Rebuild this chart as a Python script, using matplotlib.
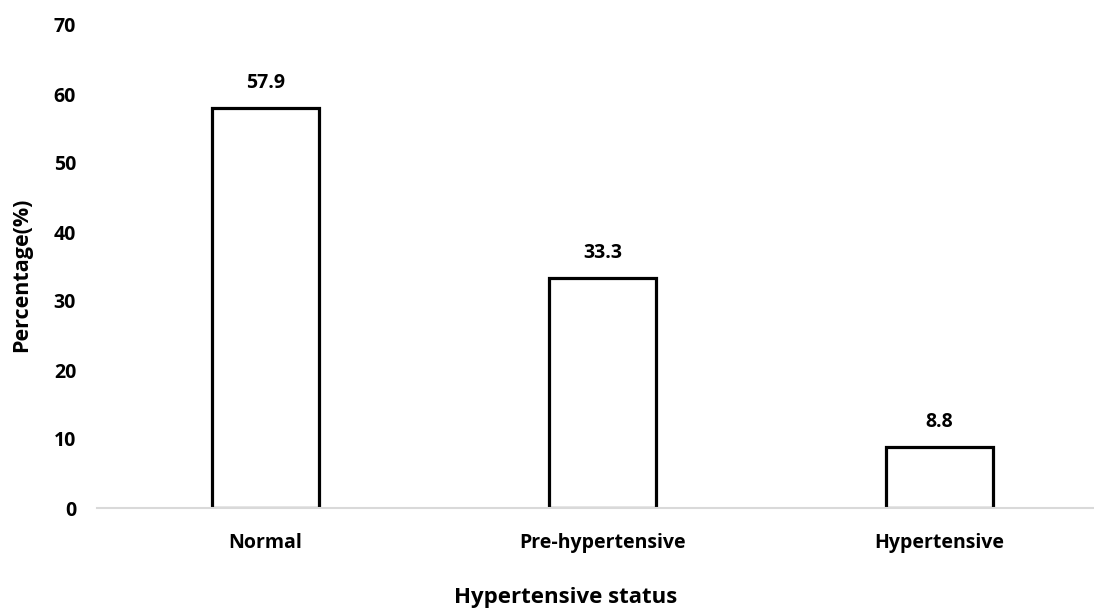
import matplotlib.pyplot as plt

categories = ["Normal", "Pre-hypertensive", "Hypertensive"]
values = [57.9, 33.3, 8.8]
yticks = [0, 10, 20, 30, 40, 50, 60, 70]

plt.rcParams["font.family"] = ["Open Sans", "DejaVu Sans"]
plt.rcParams["font.weight"] = "bold"

fig = plt.figure(figsize=(10.94, 6.11), dpi=100)
ax = fig.add_axes([97 / 1094, 103 / 611, 1011 / 1094, 483 / 611])

x = range(len(categories))
ax.bar(x, values, width=0.32, color="white", edgecolor="black", linewidth=2.3, zorder=3)
for xi, v in zip(x, values):
    ax.annotate(f"{v}", (xi, v), xytext=(0, 11), textcoords="offset points",
                ha="center", va="bottom", fontsize=14, fontweight="bold")

ax.set_xlim(-0.5, 2.5)
ax.set_ylim(0, 70)
ax.set_yticks(yticks)
ax.set_xticks(list(x))
ax.set_xticklabels(categories, fontsize=14, fontweight="bold")
ax.tick_params(axis="y", labelsize=14, length=0, pad=15)
ax.tick_params(axis="x", length=0, pad=18)
for s in ["top", "right", "left"]:
    ax.spines[s].set_visible(False)
ax.spines["bottom"].set_color("#d9d9d9")
ax.spines["bottom"].set_linewidth(1.5)
ax.spines["bottom"].set_zorder(4)

fig.text(22 / 1094, 1 - 275 / 611, "Percentage(%)", rotation=90, ha="center", va="center",
         fontsize=15.5, fontweight="bold")
fig.text(566 / 1094, 1 - 597 / 611, "Hypertensive status", ha="center", va="center",
         fontsize=16, fontweight="bold")

fig.savefig("out.png", dpi=100)
